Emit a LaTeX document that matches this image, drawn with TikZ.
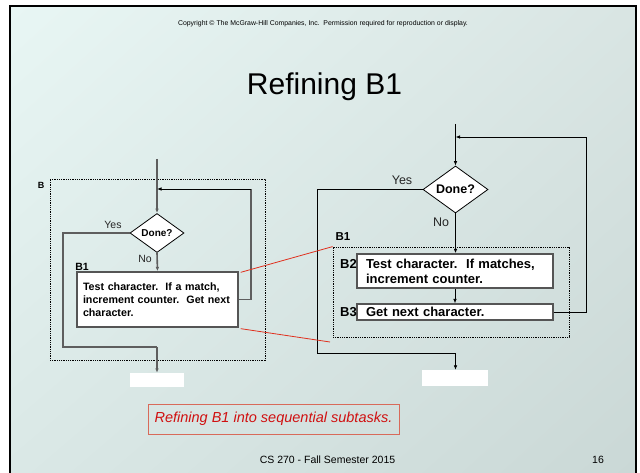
\documentclass[tikz,border=0pt]{standalone}
\usepackage{fontspec}
\setmainfont{Liberation Sans}
\usetikzlibrary{shapes.geometric,arrows.meta,shadings}
\definecolor{bgTL}{HTML}{E8F6F4}
\definecolor{bgTR}{HTML}{D9E5E3}
\definecolor{bgBL}{HTML}{DAE8E6}
\definecolor{bgBR}{HTML}{CAD8D6}
\definecolor{flowgrey}{HTML}{5E5E5E}
\definecolor{boxgrey}{HTML}{555555}
\definecolor{linkred}{HTML}{E0301E}
\definecolor{captred}{HTML}{D01010}
\definecolor{captframe}{HTML}{D86A5A}
\newcommand{\fs}[2]{\fontsize{#1}{#2}\selectfont}
\begin{document}
\begin{tikzpicture}[x=1pt,y=-1pt,
  tip/.style={-{Latex[length=4.5pt,width=3.6pt]}},
  greyflow/.style={draw=flowgrey,line width=1.6pt},
  thinflow/.style={draw=black,line width=0.8pt},
  dotbox/.style={draw=black,line width=0.8pt,dash pattern=on 0.9pt off 0.9pt,inner sep=0pt},
  taskbox/.style={draw=boxgrey,line width=1.3pt,fill=white,font=\bfseries},
  decision/.style={diamond,draw=black,line width=0.8pt,fill=white,inner sep=0pt,aspect=1.4,font=\bfseries},
  blank/.style={fill=white,inner sep=0pt},
  tag/.style={font=\bfseries,inner sep=0pt},
  branch/.style={text=black!85,inner sep=0pt}]
\useasboundingbox (0,0) rectangle (640,473);
% slide background and frame
\fill[white] (0,0) rectangle (640,473);
\shade[upper left=bgTL,upper right=bgTR,lower left=bgBL,lower right=bgBR] (10,6) rectangle (636,473);
\draw[line width=2.5pt] (10,474) -- (10,6) -- (636,6) -- (636,474);
% header and footer
\node[font=\fs{6.9}{8}] (copy) at (323,23.5) {Copyright \textcopyright{} The McGraw-Hill Companies, Inc.\ \ Permission required for reproduction or display.};
\node[font=\fs{30}{34},anchor=base] (title) at (324.5,95) {Refining B1};
\node[font=\fs{10.5}{12},anchor=base] (foot) at (327.5,463.5) {CS 270 - Fall Semester 2015};
\node[font=\fs{10.5}{12},anchor=base] (page) at (598,463.5) {16};
\node[draw=captframe,line width=0.9pt,minimum width=251pt,minimum height=30pt,inner sep=0pt,
      font=\itshape\fs{14.5}{16},text=captred] (caption) at (273.5,419) {Refining B1 into sequential subtasks.};

% ---------- left flowchart: loop B with single body B1 ----------
\node[dotbox,minimum width=215pt,minimum height=181pt] (lB) at (157.5,269.5) {};
\node[tag,font=\bfseries\fs{9}{10}] (lBtag) at (41,185) {B};
\coordinate (lin) at (157,159);
\coordinate (lloop) at (157,189);
\node[decision,minimum width=54pt,minimum height=39pt,font=\bfseries\fs{10}{12}] (ldone) at (157,233) {Done?};
\node[taskbox,minimum width=161pt,minimum height=55pt,text width=149pt,inner xsep=6pt,align=left,
      font=\bfseries\fs{10.7}{13}] (lbody) at (157.5,299.5)
  {Test character.\ \ If a match,\\increment counter.\ \ Get next\\character.};
\node[tag,font=\bfseries\fs{10.5}{12}] (lB1tag) at (82,267) {B1};
\node[branch,font=\fs{10.5}{12}] (lyes) at (113,225) {Yes};
\node[branch,font=\fs{10.5}{12}] (lno) at (145,259) {No};
\node[blank,minimum width=54pt,minimum height=14pt] (lnext) at (157,380) {};
\coordinate (lyesA) at (63,233);
\coordinate (lyesB) at (63,347);
\coordinate (lyesC) at (157,347);
\coordinate (lback) at (251,299.5);
\draw[greyflow,tip] (lin) -- (ldone.north);
\draw[greyflow,tip] (ldone.south) -- (lbody.north);
\draw[greyflow] (ldone.west) -- (lyesA) -- (lyesB) -- (lyesC);
\draw[greyflow,tip] (lyesC) -- (lnext.north);
\draw[greyflow] (lbody.east) -- (lback) -- (lback |- lloop);
\draw[thinflow,tip] (lback |- lloop) -- (lloop);

% ---------- right flowchart: B1 split into B2 and B3 ----------
\node[dotbox,minimum width=236pt,minimum height=90pt] (rB1) at (451,292) {};
\node[tag,font=\bfseries\fs{11.5}{13}] (rB1tag) at (343,237) {B1};
\coordinate (rin) at (455.5,124);
\coordinate (rloop) at (455.5,137);
\node[decision,minimum width=65pt,minimum height=47pt,font=\bfseries\fs{12.5}{14}] (rdone) at (455.5,189.5) {Done?};
\node[taskbox,minimum width=196pt,minimum height=34pt,text width=178pt,inner xsep=9pt,inner ysep=2pt,align=left,
      font=\bfseries\fs{13}{15}] (rB2) at (455,271)
  {Test character.\ \ If matches,\\increment counter.};
\node[taskbox,minimum width=196pt,minimum height=16pt,text width=178pt,inner xsep=9pt,inner ysep=0.5pt,align=left,
      font=\bfseries\fs{13}{15}] (rB3) at (455,312) {Get next character.};
\node[tag,font=\bfseries\fs{13}{14}] (rB2tag) at (348.5,264) {B2};
\node[tag,font=\bfseries\fs{13}{14}] (rB3tag) at (348.5,312) {B3};
\node[branch,font=\fs{12.5}{14}] (ryes) at (402,180) {Yes};
\node[branch,font=\fs{12.5}{14}] (rno) at (441,222) {No};
\node[blank,minimum width=66pt,minimum height=16pt] (rnext) at (455,378) {};
\coordinate (ryesA) at (317,189.5);
\coordinate (ryesB) at (317,353);
\coordinate (ryesC) at (455.5,353);
\coordinate (rback) at (586,312);
\draw[thinflow,tip] (rin) -- (rdone.north);
\draw[draw=black,line width=1.5pt,tip] (rdone.south) -- (rB2.north -| rdone.south);
\draw[thinflow,tip] (rB2.south) -- (rB3.north);
\draw[thinflow] (rdone.west) -- (ryesA) -- (ryesB) -- (ryesC);
\draw[thinflow,tip] (ryesC) -- (rnext.north -| ryesC);
\draw[thinflow] (rB3.east) -- (rback) -- (rback |- rloop);
\draw[thinflow,tip] (rback |- rloop) -- (rloop);

% ---------- refinement links ----------
\coordinate (linkend) at (330,342);
\draw[linkred,line width=0.8pt] ([shift={(2pt,-1pt)}]lbody.north east) -- (rB1.north west);
\draw[linkred,line width=0.8pt] ([shift={(2pt,-1pt)}]lbody.south east) -- (linkend);
\end{tikzpicture}
\end{document}
